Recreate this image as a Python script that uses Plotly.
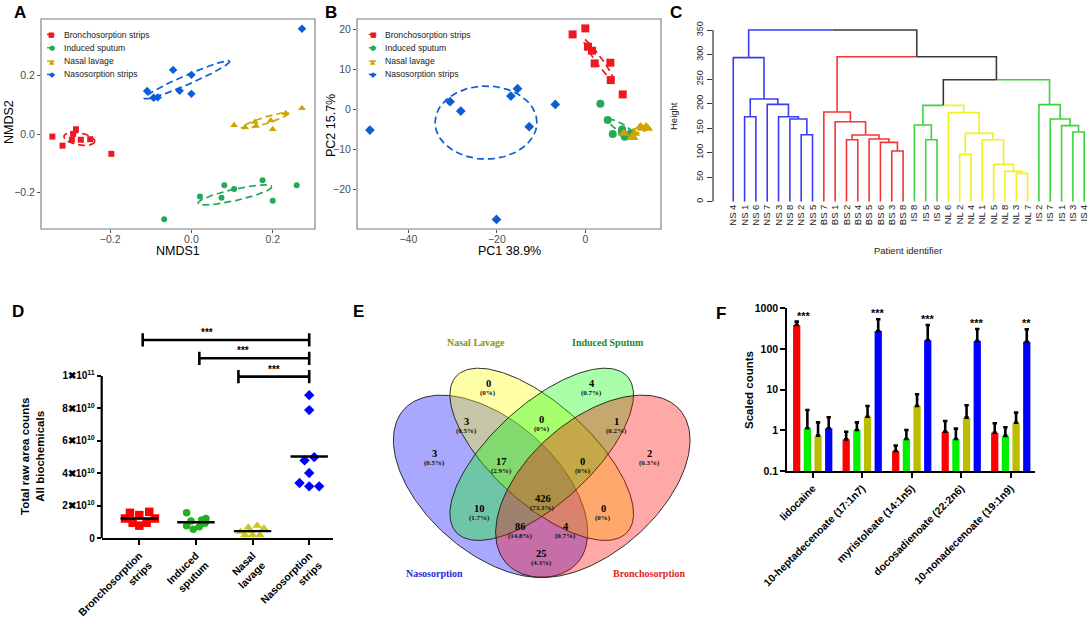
import numpy as np
import plotly.graph_objects as go

W, H = 1091, 631
def px(x): return x / W
def py(y): return 1 - y / H

SANS = "Liberation Sans, Arial, sans-serif"
SERIF = "Liberation Serif, Times New Roman, serif"

# ---------------- shared group info ----------------
group_names = ["Bronchosorption strips", "Induced sputum", "Nasal lavage", "Nasosorption strips"]
gg_colors = ["#EE1820", "#24A85A", "#CFA400", "#0C5ED6"]
gg_symbols = ["square", "circle", "triangle-up", "diamond"]

# ---------------- Panel A: NMDS ----------------
a_bs_x = [-0.342, -0.317, -0.291, -0.284, -0.294, -0.272, -0.249, -0.197]
a_bs_y = [-0.008, -0.039, 0.001, 0.017, -0.019, -0.019, -0.017, -0.067]
a_is_x = [0.021, 0.074, 0.081, 0.105, 0.175, 0.200, 0.259, -0.067]
a_is_y = [-0.213, -0.217, -0.174, -0.187, -0.157, -0.227, -0.174, -0.291]
a_nl_x = [0.105, 0.132, 0.156, 0.159, 0.195, 0.200, 0.232, 0.272]
a_nl_y = [0.031, 0.024, 0.042, 0.028, 0.047, 0.017, 0.072, 0.089]
a_ns_x = [-0.109, -0.093, -0.083, -0.045, 0.000, -0.029, 0.000, 0.272]
a_ns_y = [0.148, 0.125, 0.126, 0.220, 0.203, 0.149, 0.138, 0.361]
# ellipse: centre, semi-axis vector 1, semi-axis vector 2 (data units)
a_ellipses = [
    (-0.2757, -0.016, 0.0379, -0.0091, -0.0025, -0.0202),
    (0.107, -0.2075, 0.0905, 0.0285, 0.0031, -0.0189),
    (0.181, 0.0467, 0.0576, 0.0251, 0.0025, -0.0108),
    (-0.0107, 0.186, 0.105, 0.0638, 0.0046, -0.0146),
]

# ---------------- Panel B: PCA ----------------
b_bs_x = [-2.87, 0.0, 0.60, 1.51, 2.11, 5.66, 5.74, 8.45]
b_bs_y = [18.75, 20.25, 15.67, 14.67, 11.5, 11.67, 7.33, 3.75]
b_is_x = [3.40, 5.06, 6.19, 8.30, 8.91, 10.19, 9.66, 8.30]
b_is_y = [1.42, -2.67, -6.17, -5.0, -6.83, -6.0, -6.42, -5.83]
b_nl_x = [8.68, 11.17, 10.79, 12.45, 13.74, 14.11, 10.57, 12.83]
b_nl_y = [-6.0, -6.0, -7.08, -4.33, -4.33, -4.75, -6.83, -4.75]
b_ns_x = [-48.68, -30.57, -28.15, -16.83, -15.32, -12.68, -6.79, -20.08]
b_ns_y = [-5.17, 1.92, -0.42, 3.33, 5.17, -4.33, 1.25, -27.5]
b_ellipses = [
    (3.02, 12.33, 3.40, -5.17, 0.61, 0.49),
    (8.30, -4.75, 3.02, -2.08, -0.48, -0.85),
    (11.70, -5.33, 2.64, 0.83, 0.166, -0.64),
    (-22.45, -3.29, 11.5, 0.0, 0.0, 9.13),
]

# ---------------- Panel C: dendrogram ----------------
c_leaves = ["NS 4", "NS 1", "NS 6", "NS 7", "NS 3", "NS 8", "NS 2", "NS 5",
            "BS 7", "BS 1", "BS 2", "BS 4", "BS 5", "BS 6", "BS 3", "BS 8",
            "IS 8", "IS 5", "IS 6", "NL 6", "NL 2", "NL 4", "NL 1", "NL 5",
            "NL 8", "NL 3", "NL 7", "IS 2", "IS 7", "IS 1", "IS 3", "IS 4"]
c_left = ["NS 2", "NS 8", "NS 3", "NS 7", "NS 1", 4, "NS 4", "BS 3", "BS 6", "BS 5",
          "BS 2", 10, "BS 1", "BS 7", "IS 5", "IS 8", "NL 3", "NL 8", "NL 5", "NL 1",
          "NL 2", 20, "NL 6", 15, "IS 3", "IS 1", "IS 7", "IS 2", 23, 13, 6]
c_right = ["NS 5", 0, 1, 2, "NS 6", 3, 5, "BS 8", 7, 8,
           "BS 4", 9, 11, 12, "IS 6", 14, "NL 7", 16, 17, 18,
           "NL 4", 19, 21, 22, "IS 4", 24, 25, 26, 27, 28, 29]
c_height = [136.6, 168.5, 173.3, 198.4, 173.3, 209.3, 293.6, 103.3, 121.0, 127.8,
            126.4, 135.9, 163.1, 182.8, 126.4, 156.3, 57.8, 61.8, 76.1, 126.4,
            96.5, 139.3, 181.5, 196.4, 142.0, 155.0, 168.5, 197.8, 248.7, 295.6, 350.0]
c_colors = {"NS": "#3B3BF7", "BS": "#F53535", "IS": "#3CD23C", "NL": "#F2F21A"}
c_mixed = "#3A3A3A"

# ---------------- Panel D: total raw counts ----------------
d_labels = ["Bronchosorption<br>strips", "Induced<br>sputum", "Nasal<br>lavage", "Nasosorption<br>strips"]
d_bs = [1.57, 1.63, 1.22, 1.22, 1.43, 0.96, 0.96, 0.78]
d_is = [1.57, 1.06, 0.78, 0.55, 0.71, 1.12, 1.22, 0.92]
d_nl = [0.41, 0.67, 0.78, 0.61, 0.20, 0.20, 0.20, 0.47]
d_ns = [8.82, 7.90, 4.80, 5.00, 4.02, 3.41, 3.20, 3.20]
d_bs_jit = [-0.165, 0.176, -0.253, 0.276, 0.0, -0.118, 0.129, 0.0]
d_is_jit = [-0.165, -0.088, -0.165, -0.047, 0.059, 0.100, 0.176, 0.159]
d_nl_jit = [-0.212, -0.076, 0.082, 0.200, -0.135, 0.0, 0.129, -0.05]
d_ns_jit = [0.0, 0.0, -0.082, 0.088, 0.0, -0.171, 0.0, 0.176]
d_scale = 1e10
d_colors = ["#FF0000", "#22B022", "#C8C81E", "#0000FF"]
d_symbols = ["square", "circle", "triangle-up", "diamond"]
d_sizes = [8.5, 7.5, 8.5, 8]
d_brk_from = [0.06, 1.06, 1.75]
d_brk_to = [3, 3, 3]
d_brk_y = [1.222e11, 1.109e11, 0.996e11]
d_brk_txt_x = [1.19, 1.83, 2.37]
d_yticks = [0, 2e10, 4e10, 6e10, 8e10, 1e11]
d_yticktext = ["0", "2✖10<sup>10</sup>", "4✖10<sup>10</sup>", "6✖10<sup>10</sup>",
               "8✖10<sup>10</sup>", "1✖10<sup>11</sup>"]

# ---------------- Panel E: Venn ----------------
venn_sets = ["Nasosorption", "Nasal Lavage", "Induced Sputum", "Bronchosorption"]
venn_fill = ["rgba(0,0,255,0.34)", "rgba(255,255,0,0.34)", "rgba(0,255,0,0.34)", "rgba(255,0,0,0.34)"]
venn_title_col = ["#2A2AE0", "#8F8F10", "#1B8A1B", "#E01E1E"]
venn_geom = [(0.35, 0.47, 0.35, 0.20, 135), (0.50, 0.57, 0.35, 0.15, 135),
             (0.50, 0.57, 0.35, 0.15, 45), (0.65, 0.47, 0.35, 0.20, 45)]
venn_counts = [3, 0, 4, 2, 3, 0, 1, 17, 0, 426, 10, 0, 86, 4, 25]
venn_u = [0.185, 0.343, 0.647, 0.816, 0.280, 0.500, 0.718, 0.383, 0.620, 0.503, 0.317, 0.681, 0.437, 0.571, 0.500]
venn_v = [0.573, 0.792, 0.792, 0.573, 0.674, 0.679, 0.674, 0.547, 0.547, 0.432, 0.401, 0.401, 0.343, 0.343, 0.260]
venn_title_u = [0.187, 0.307, 0.695, 0.816]
venn_title_v = [0.196, 0.920, 0.920, 0.196]

# ---------------- Panel F: scaled counts ----------------
f_labels = ["lidocaine", "10-heptadecenoate (17:1n7)", "myristoleate (14:1n5)",
            "docosadienoate (22:2n6)", "10-nonadecenoate (19:1n9)"]
f_bs = [389, 0.60, 0.31, 0.925, 0.875]
f_is = [1.12, 1.02, 0.61, 0.61, 0.73]
f_nl = [0.74, 2.16, 3.96, 2.05, 1.54]
f_ns = [1.12, 277, 164, 157, 151]
f_bs_err = [81, 0.325, 0.11, 0.765, 0.615]
f_is_err = [2.04, 0.55, 0.41, 0.49, 0.46]
f_nl_err = [0.83, 1.80, 3.74, 2.07, 1.18]
f_ns_err = [0.97, 260, 225, 152, 154]
f_sig = ["***", "***", "***", "***", "**"]
f_sig_series = [0, 3, 3, 3, 3]
f_colors = ["#FF0000", "#00F000", "#BDBD00", "#0000FF"]

fig = go.Figure()

# ---------- helpers ----------
def ellipse_pts(cx, cy, ax, ay, bx, by, n=120):
    t = np.linspace(0, 2 * np.pi, n)
    return cx + ax * np.cos(t) + bx * np.sin(t), cy + ay * np.cos(t) + by * np.sin(t)

def rot_ellipse(cx, cy, a, b, deg, n=240):
    t = np.linspace(0, 2 * np.pi, n)
    th = np.radians(deg)
    return (cx + a * np.cos(t) * np.cos(th) - b * np.sin(t) * np.sin(th),
            cy + a * np.cos(t) * np.sin(th) + b * np.sin(t) * np.cos(th))

# ---------- A ----------
a_sets = [(a_bs_x, a_bs_y), (a_is_x, a_is_y), (a_nl_x, a_nl_y), (a_ns_x, a_ns_y)]
a_msize = [6, 6, 7, 6.5]
for i, (xs, ys) in enumerate(a_sets):
    ex, ey = ellipse_pts(*a_ellipses[i])
    fig.add_trace(go.Scatter(x=ex, y=ey, mode="lines", xaxis="x", yaxis="y", showlegend=False,
                             line=dict(color=gg_colors[i], width=1.7, dash="7px,4px"), hoverinfo="skip"))
    fig.add_trace(go.Scatter(x=xs, y=ys, mode="markers", xaxis="x", yaxis="y", showlegend=False,
                             marker=dict(symbol=gg_symbols[i], size=a_msize[i], color=gg_colors[i]),
                             cliponaxis=False, name=group_names[i]))

# ---------- B ----------
b_sets = [(b_bs_x, b_bs_y), (b_is_x, b_is_y), (b_nl_x, b_nl_y), (b_ns_x, b_ns_y)]
b_msize = [8, 8, 9.5, 7.5]
for i, (xs, ys) in enumerate(b_sets):
    ex, ey = ellipse_pts(*b_ellipses[i])
    fig.add_trace(go.Scatter(x=ex, y=ey, mode="lines", xaxis="x2", yaxis="y2", showlegend=False,
                             line=dict(color=gg_colors[i], width=1.7, dash="7px,4px"), hoverinfo="skip"))
    fig.add_trace(go.Scatter(x=xs, y=ys, mode="markers", xaxis="x2", yaxis="y2", showlegend=False,
                             marker=dict(symbol=gg_symbols[i], size=b_msize[i], color=gg_colors[i]),
                             cliponaxis=False, name=group_names[i]))

# ---------- C: dendrogram ----------
pos, hgt, col = {}, {}, {}
for i, nm in enumerate(c_leaves):
    pos[nm], hgt[nm], col[nm] = float(i), 0.0, c_colors[nm[:2]]
segs = {}
for k in range(len(c_height)):
    l, r, h = c_left[k], c_right[k], c_height[k]
    pos[k] = (pos[l] + pos[r]) / 2
    hgt[k] = h
    col[k] = col[l] if col[l] == col[r] else c_mixed
    for ch in (l, r):
        s = segs.setdefault(col[ch], ([], []))
        s[0].extend([pos[ch], pos[ch], pos[k], None])
        s[1].extend([hgt[ch], h, h, None])
for c, (sx, sy) in segs.items():
    fig.add_trace(go.Scatter(x=sx, y=sy, mode="lines", xaxis="x3", yaxis="y3", showlegend=False,
                             line=dict(color=c, width=1.6), hoverinfo="skip", cliponaxis=False))

# ---------- D ----------
d_sets = [(d_bs, d_bs_jit), (d_is, d_is_jit), (d_nl, d_nl_jit), (d_ns, d_ns_jit)]
mx, my = [], []
for i, (vals, jit) in enumerate(d_sets):
    xs = [i + j for j in jit]
    ys = [v * d_scale for v in vals]
    fig.add_trace(go.Scatter(x=xs, y=ys, mode="markers", xaxis="x4", yaxis="y4", showlegend=False,
                             marker=dict(symbol=d_symbols[i], size=d_sizes[i], color=d_colors[i]),
                             cliponaxis=False))
    m = float(np.mean(ys))
    mx.extend([i - 0.33, i + 0.33, None])
    my.extend([m, m, None])
fig.add_trace(go.Scatter(x=mx, y=my, mode="lines", xaxis="x4", yaxis="y4", showlegend=False,
                         line=dict(color="black", width=2.4), hoverinfo="skip"))
bx, by = [], []
cap = 0.041e11
for a, b, yv in zip(d_brk_from, d_brk_to, d_brk_y):
    bx += [a, b, None, a, a, None, b, b, None]
    by += [yv, yv, None, yv - cap, yv + cap, None, yv - cap, yv + cap, None]
fig.add_trace(go.Scatter(x=bx, y=by, mode="lines", xaxis="x4", yaxis="y4", showlegend=False,
                         line=dict(color="black", width=2.6), hoverinfo="skip"))

# ---------- E: Venn ----------
for i, g in enumerate(venn_geom):
    ex, ey = rot_ellipse(*g)
    fig.add_trace(go.Scatter(x=ex, y=ey, mode="lines", fill="toself", fillcolor=venn_fill[i],
                             xaxis="x5", yaxis="y5", showlegend=False, hoverinfo="skip",
                             line=dict(color="#1a1a1a", width=0.9)))

# ---------- F ----------
f_series = [(f_bs, f_bs_err), (f_is, f_is_err), (f_nl, f_nl_err), (f_ns, f_ns_err)]
for i, (vals, errs) in enumerate(f_series):
    fig.add_trace(go.Bar(x=f_labels, y=vals, xaxis="x6", yaxis="y6", showlegend=False,
                         marker=dict(color=f_colors[i], line=dict(width=0)),
                         error_y=dict(type="data", array=errs, arrayminus=[0] * len(errs),
                                      symmetric=False, color="black", thickness=2.6, width=2.2)))

# ---------------- annotations ----------------
ann = []
def pa(text, x, y, size, color="black", xa="center", ya="middle", angle=0, family=SANS, bold=False):
    ann.append(dict(xref="paper", yref="paper", x=px(x), y=py(y), text=text, showarrow=False,
                    xanchor=xa, yanchor=ya, textangle=angle,
                    font=dict(family=family, size=size, color=color, weight="bold" if bold else "normal")))

for lab, x, y in [("A", 20, 13), ("B", 331, 13), ("C", 676, 13), ("D", 18, 312), ("E", 358, 312), ("F", 721, 313)]:
    pa(lab, x, y, 17, bold=True)

# axis titles
pa("NMDS1", 178, 250.5, 12.5)
pa("NMDS2", 9, 122, 12.5, angle=-90)
pa("PC1 38.9%", 510, 251, 12.5)
pa("PC2 15.7%", 331, 126, 12.5, angle=-90)
pa("Height", 673, 116, 9.5, color="#222", angle=-90)
pa("Patient identifier", 908, 250, 9.5, color="#222")
pa("Total raw area counts<br>All biochemicals", 33, 457, 11.5, angle=-90, bold=True)
pa("Scaled counts", 749, 390, 11.5, angle=-90, bold=True)

# legends (A and B)
shapes = []
sym_chars = ["■", "●", "▲", "◆"]
for lx, tx in [(51.5, 61.5), (373.3, 383.3)]:
    for i, nm in enumerate(group_names):
        yy = 34.5 + 13.3 * i
        shapes.append(dict(type="line", xref="paper", yref="paper", x0=px(lx - 4.5), x1=px(lx + 3),
                           y0=py(yy), y1=py(yy), line=dict(color=gg_colors[i], width=1.4)))
        pa(sym_chars[i], lx, yy + 0.5, 7 if i != 3 else 7.5, color=gg_colors[i], family="DejaVu Sans")
        pa(nm, tx, yy, 8.6, color="#1a1a1a", xa="left")

# D bracket stars
for xv, yv in zip(d_brk_txt_x, d_brk_y):
    ann.append(dict(xref="x4", yref="y4", x=xv, y=yv, text="***", showarrow=False, yanchor="bottom",
                    yshift=0, font=dict(family=SANS, size=10, color="black", weight="bold")))

# Venn labels
total = sum(venn_counts)
for c, u, v in zip(venn_counts, venn_u, venn_v):
    pct = "(0%)" if c == 0 else "({:.1f}%)".format(100 * c / total)
    ann.append(dict(xref="x5", yref="y5", x=u, y=v, text=str(c), showarrow=False,
                    font=dict(family=SERIF, size=10.5, color="black", weight="bold")))
    ann.append(dict(xref="x5", yref="y5", x=u, y=v, yshift=-9.5, text=pct, showarrow=False,
                    font=dict(family=SERIF, size=7, color="#111", weight="bold")))
for nm, u, v, c in zip(venn_sets, venn_title_u, venn_title_v, venn_title_col):
    ann.append(dict(xref="x5", yref="y5", x=u, y=v, text=nm, showarrow=False,
                    font=dict(family=SERIF, size=10, color=c, weight="bold")))

# F significance stars
f_vals = [f_bs, f_is, f_nl, f_ns]
f_errs = [f_bs_err, f_is_err, f_nl_err, f_ns_err]
for k, (s, si) in enumerate(zip(f_sig, f_sig_series)):
    top = f_vals[si][k] + f_errs[si][k]
    ann.append(dict(xref="x6", yref="y6", x=k, y=float(np.log10(top)), text=s, showarrow=False,
                    xshift=(-1.5 + si) * 10.7 + (7 if si == 0 else 0), yanchor="bottom", yshift=-2,
                    font=dict(family=SANS, size=11, color="black", weight="bold")))

# panel frames for A and B, axis lines for C and D (only over tick span)
for xr, yr in [("x domain", "y domain"), ("x2 domain", "y2 domain")]:
    shapes.append(dict(type="rect", xref=xr, yref=yr, x0=0, x1=1, y0=0, y1=1,
                       line=dict(color="#7a7a7a", width=1.1), fillcolor="rgba(0,0,0,0)", layer="above"))
shapes.append(dict(type="line", xref="x3 domain", yref="y3", x0=0, x1=0, y0=0, y1=350,
                   line=dict(color="#333", width=1.2)))
shapes.append(dict(type="line", xref="x4 domain", yref="y4", x0=0, x1=0, y0=0, y1=1e11,
                   line=dict(color="black", width=2.2)))

gg_axis = dict(showline=False, ticks="outside",
               ticklen=3, tickcolor="#555", tickwidth=1, showgrid=False, zeroline=False, automargin=False,
               tickfont=dict(family=SANS, size=10.5, color="#4d4d4d"))

layout = dict(
    template="none",
    width=W, height=H, margin=dict(l=0, r=0, t=0, b=0, pad=0), paper_bgcolor="white", plot_bgcolor="white",
    font=dict(family=SANS), showlegend=False, bargap=0.137, bargroupgap=0.32,
    annotations=ann, shapes=shapes,
    xaxis=dict(domain=[px(41), px(315)], range=[-0.370, 0.304], anchor="y", ticklabelstandoff=-3,
               tickvals=[-0.2, 0, 0.2], ticktext=["−0.2", "0.0", "0.2"], **gg_axis),
    yaxis=dict(domain=[py(229), py(19)], range=[-0.324, 0.394], anchor="x",
               tickvals=[-0.2, 0, 0.2], ticktext=["−0.2", "0.0", "0.2"], **gg_axis),
    xaxis2=dict(domain=[px(357), px(661)], range=[-51.6, 17.1], anchor="y2", ticklabelstandoff=-3,
                tickvals=[-40, -20, 0], ticktext=["−40", "−20", "0"], **gg_axis),
    yaxis2=dict(domain=[py(229), py(19)], range=[-29.9, 22.6], anchor="x2",
                tickvals=[-20, -10, 0, 10, 20], ticktext=["−20", "−10", "0", "10", "20"], **gg_axis),
    xaxis3=dict(domain=[px(713), 1.0], range=[-1.79, 31.6], anchor="y3", showline=False, automargin=False,
                showgrid=False, zeroline=False, tickvals=list(range(len(c_leaves))), ticktext=c_leaves,
                tickangle=-90, ticks="", tickfont=dict(family=SANS, size=9.5, color="#222")),
    yaxis3=dict(domain=[py(201.7), py(25.1)], range=[0, 360], anchor="x3", showline=False, automargin=False,
                showgrid=False, zeroline=False, tickvals=list(range(0, 351, 50)), tickangle=-90,
                ticks="outside", ticklen=5, tickcolor="#333", tickwidth=1.2,
                tickfont=dict(family=SANS, size=9, color="#222")),
    xaxis4=dict(domain=[px(101.7), px(333)], range=[-0.664, 3.42], anchor="y4", showline=True,
                linecolor="black", linewidth=2.2, showgrid=False, zeroline=False, automargin=False,
                tickvals=[0, 1, 2, 3], ticktext=d_labels, tickangle=-45, ticks="outside", ticklen=5,
                tickwidth=2, tickcolor="black",
                tickfont=dict(family=SANS, size=10.5, color="black", weight="bold")),
    yaxis4=dict(domain=[py(538.3), py(327.3)], range=[0, 1.3e11], anchor="x4", showline=False,
                showgrid=False, zeroline=False, tickvals=d_yticks, ticktext=d_yticktext, automargin=False,
                ticks="outside", ticklen=4, tickwidth=2, tickcolor="black",
                tickfont=dict(family=SANS, size=10, color="black", weight="bold")),
    xaxis5=dict(domain=[px(371.2), px(712.2)], range=[0, 1], anchor="y5", visible=False, automargin=False),
    yaxis5=dict(domain=[py(627), py(316.8)], range=[0.03, 1.0], anchor="x5", visible=False, automargin=False),
    xaxis6=dict(domain=[px(787.3), px(1035)], range=[-0.513, 4.49], anchor="y6", type="category",
                showline=True, linecolor="black", linewidth=2.2, showgrid=False, zeroline=False,
                tickangle=-45, ticks="outside", ticklen=5, tickwidth=2, tickcolor="black", automargin=False,
                tickfont=dict(family=SANS, size=10.5, color="black", weight="bold")),
    yaxis6=dict(domain=[py(471), py(308.3)], type="log", range=[-1, 3], anchor="x6",
                showline=True, linecolor="black", linewidth=2.2, showgrid=False, zeroline=False,
                tickvals=[0.1, 1, 10, 100, 1000], ticktext=["0.1", "1", "10", "100", "1000"],
                ticks="outside", ticklen=5, tickwidth=2, tickcolor="black", automargin=False,
                tickfont=dict(family=SANS, size=10.5, color="black", weight="bold")),
)
fig.update_layout(**layout)
fig.write_html("out.html", config={"displayModeBar": False},
               post_script="document.body.style.margin='0px';document.body.style.overflow='hidden';")
